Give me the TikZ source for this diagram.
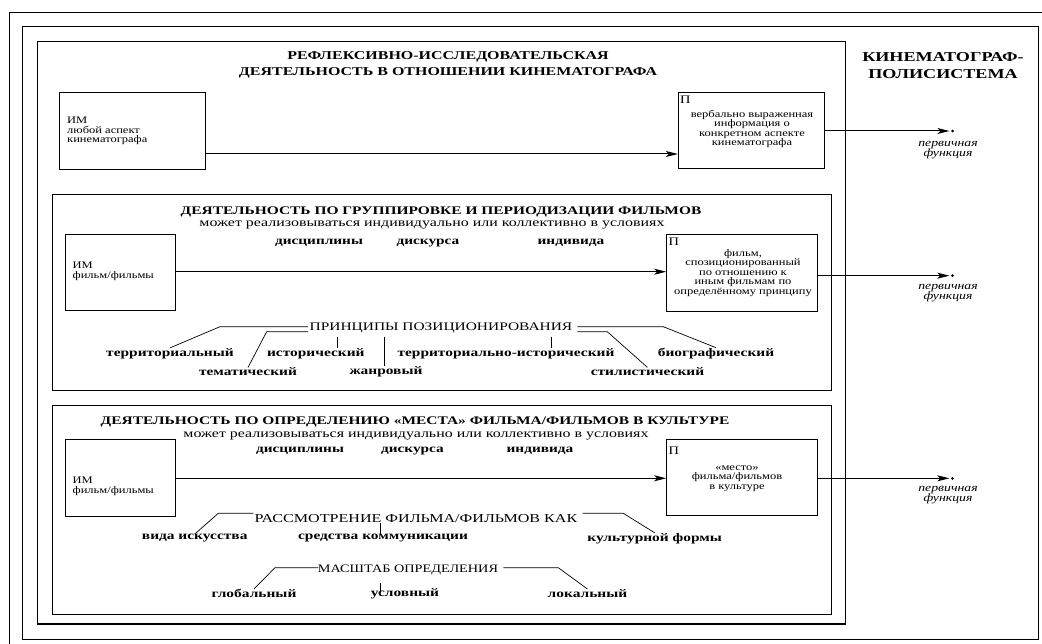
\documentclass[tikz,border=0pt]{standalone}
\usepackage{fontspec}
\setmainfont{Liberation Serif}[FakeStretch=1.33]
\newfontfamily\bxf{Liberation Serif}[FakeStretch=1.25]
\usetikzlibrary{arrows.meta}
\begin{document}
\begin{tikzpicture}[x=1pt,y=-1pt,
  frm/.style={draw, line width=1.1pt},
  bx/.style={draw, line width=1pt, inner sep=0pt},
  bt/.style={font=\bxf\fontsize{10}{9.6}\selectfont, inner sep=0pt},
  pl/.style={font=\bxf\fontsize{11.5}{12}\selectfont, inner sep=0pt, anchor=north west},
  ttl/.style={font=\bfseries\fontsize{11.6}{14}\selectfont, inner sep=0pt},
  sub/.style={font=\fontsize{12}{12}\selectfont, inner sep=0pt},
  sbl/.style={font=\bfseries\fontsize{11.5}{12}\selectfont, inner sep=0pt},
  hdr/.style={font=\fontsize{11.6}{12}\selectfont, inner sep=0pt},
  hdrb/.style={font=\bxf\fontsize{11.4}{12}\selectfont, inner sep=0pt},
  lbl/.style={font=\bfseries\fontsize{11.6}{12}\selectfont, inner sep=0pt},
  fn/.style={font=\bxf\itshape\fontsize{11}{10}\selectfont, inner sep=0pt, align=center},
  arr/.style={-{Stealth[length=12pt,width=6pt,inset=3pt]}, line width=1pt},
  ln/.style={line width=0.7pt},
  dot/.style={circle, fill, inner sep=0pt, minimum size=3pt}
]
\useasboundingbox (0,0) rectangle (1042,644);
% frames
\draw[frm] (9.3,644) -- (9.3,12.3) -- (1042,12.3);
\draw[frm] (22.7,26.7) rectangle (1038.3,639.3);
\draw[frm] (37.7,41.7) rectangle (845.7,624);
\draw[frm] (52.7,194.3) rectangle (831.7,390.7);
\draw[frm] (52.7,405.7) rectangle (831.7,614.3);

% titles
\node[font=\bfseries\fontsize{12}{16}\selectfont, align=center, inner sep=0pt] (t1) at (448,65)
  {РЕФЛЕКСИВНО-ИССЛЕДОВАТЕЛЬСКАЯ\\ДЕЯТЕЛЬНОСТЬ В ОТНОШЕНИИ КИНЕМАТОГРАФА};
\node[font=\bfseries\fontsize{13.6}{17}\selectfont, align=center, inner sep=0pt] (kp) at (943,66)
  {КИНЕМАТОГРАФ-\\ПОЛИСИСТЕМА};

% ===== section 1
\node[bx, minimum width=145.7pt, minimum height=77pt] (im1) at (132.2,130.8) {};
\node[bt, anchor=west, align=left] (im1t) at (67,131) {ИМ\\любой аспект\\кинематографа};
\node[bx, minimum width=146pt, minimum height=76pt] (p1) at (751.3,130.3) {};
\node[pl] (p1l) at (680,96) {П};
\node[bt, align=center] (p1t) at (752,129) {вербально выраженная\\информация о\\конкретном аспекте\\кинематографа};
\coordinate (y1) at (0,154);
\draw[arr] (im1.east |- y1) -- (p1.west |- y1);
\node[dot] (d1) at (952.5,131) {};
\draw[arr] (p1.east |- d1) -- ([xshift=-1.5pt]d1.west);
\node[fn] (f1) at (948,150) {первичная\\функция};

% ===== section 2
\node[ttl] (t2) at (441,211.7) {ДЕЯТЕЛЬНОСТЬ ПО ГРУППИРОВКЕ И ПЕРИОДИЗАЦИИ ФИЛЬМОВ};
\node[sub] (s2) at (432,225) {может реализовываться индивидуально или коллективно в условиях};
\node[sbl] (s2a) at (319,242.7) {дисциплины};
\node[sbl] (s2b) at (428,242.7) {дискурса};
\node[sbl] (s2c) at (571,242.7) {индивида};
\node[bx, minimum width=110.4pt, minimum height=76.7pt] (im2) at (120.5,272.65) {};
\node[bt, anchor=west, align=left] (im2t) at (72.5,271) {ИМ\\фильм/фильмы};
\node[bx, minimum width=151pt, minimum height=77.4pt] (p2) at (742.2,273) {};
\node[pl] (p2l) at (668.5,238) {П};
\node[bt, align=center] (p2t) at (743,273) {фильм,\\спозиционированный\\по отношению к\\иным фильмам по\\определённому принципу};
\coordinate (y2) at (0,271.7);
\draw[arr] (im2.east |- y2) -- (p2.west |- y2);
\node[dot] (d2) at (952.5,275.7) {};
\draw[arr] (p2.east |- d2) -- ([xshift=-1.5pt]d2.west);
\node[fn] (f2) at (948,293) {первичная\\функция};

\node[hdr] (pr) at (441,327.7) {ПРИНЦИПЫ ПОЗИЦИОНИРОВАНИЯ};
\node[lbl] (terr) at (170,353.3) {территориальный};
\node[lbl] (ist) at (315.8,353.3) {исторический};
\node[lbl] (terrist) at (506,353.3) {территориально-исторический};
\node[lbl] (bio) at (716,353.3) {биографический};
\node[lbl] (tem) at (248,371.7) {тематический};
\node[lbl] (zhan) at (386,371.7) {жанровый};
\node[lbl] (stil) at (647.5,371.7) {стилистический};
\coordinate (prLu) at (308,326.7);
\coordinate (prLd) at (308,331.7);
\coordinate (prRu) at (577.3,326.7);
\coordinate (prRd) at (577.3,331.7);
\coordinate (cIst) at (337.3,336.7);
\coordinate (cZh) at (384.3,336.7);
\coordinate (cTi) at (551,336.7);
\draw[ln] (prLu) -- (220,326.7) -- (terr.north);
\draw[ln] (prLd) -- (266.7,331.7) -- (tem.north);
\draw[ln] (cIst) -- (cIst |- ist.north);
\draw[ln] (cZh) -- (cZh |- zhan.north);
\draw[ln] (cTi) -- (cTi |- terrist.north);
\draw[ln] (prRu) -- (663.3,326.7) -- (bio.north);
\draw[ln] (prRd) -- (607.3,331.7) -- (stil.north);

% ===== section 3
\node[ttl] (t3) at (415,422.3) {ДЕЯТЕЛЬНОСТЬ ПО ОПРЕДЕЛЕНИЮ «МЕСТА» ФИЛЬМА/ФИЛЬМОВ В КУЛЬТУРЕ};
\node[sub] (s3) at (416,435.7) {может реализовываться индивидуально или коллективно в условиях};
\node[sbl] (s3a) at (300,451) {дисциплины};
\node[sbl] (s3b) at (412.5,451) {дискурса};
\node[sbl] (s3c) at (540,451) {индивида};
\node[bx, minimum width=110.4pt, minimum height=77.7pt] (im3) at (120.5,477.85) {};
\node[bt, anchor=west, align=left] (im3t) at (72.5,486) {ИМ\\фильм/фильмы};
\node[bx, minimum width=151pt, minimum height=76.7pt] (p3) at (742.2,477.35) {};
\node[pl] (p3l) at (668.5,447) {П};
\node[bt, align=center] (p3t) at (737,478.5) {«место»\\фильма/фильмов\\в культуре};
\coordinate (y3) at (0,478.3);
\draw[arr] (im3.east |- y3) -- (p3.west |- y3);
\node[dot] (d3) at (952.5,478.3) {};
\draw[arr] (p3.east |- d3) -- ([xshift=-1.5pt]d3.west);
\node[fn] (f3) at (948,495.5) {первичная\\функция};

\node[hdr, font=\fontsize{12.1}{12}\selectfont] (rf) at (416,518.3) {РАССМОТРЕНИЕ ФИЛЬМА/ФИЛЬМОВ КАК};
\node[lbl] (vida) at (194.7,538.3) {вида искусства};
\node[lbl] (sred) at (383,538.3) {средства коммуникации};
\node[lbl] (kult) at (654.7,538.3) {культурной формы};
\coordinate (cSr) at (380,523.3);
\draw[ln] (253.3,513.3) -- (218.3,513.3) -- (vida.north);
\draw[ln] (cSr) -- (cSr |- sred.north);
\draw[ln] (582.7,513.3) -- (623.3,513.3) -- (kult.north);

\node[hdrb] (ms) at (408,570) {МАСШТАБ ОПРЕДЕЛЕНИЯ};
\node[lbl] (glob) at (254,593.3) {глобальный};
\node[lbl] (usl) at (405,593.3) {условный};
\node[lbl] (lok) at (587.5,593.3) {локальный};
\coordinate (cUs) at (380,583.3);
\draw[ln] (318.3,567.7) -- (275,567.7) -- (glob.north);
\draw[ln] (cUs) -- (380,590.5);
\draw[ln] (503.3,567.7) -- (558.3,567.7) -- (lok.north);
\end{tikzpicture}
\end{document}
